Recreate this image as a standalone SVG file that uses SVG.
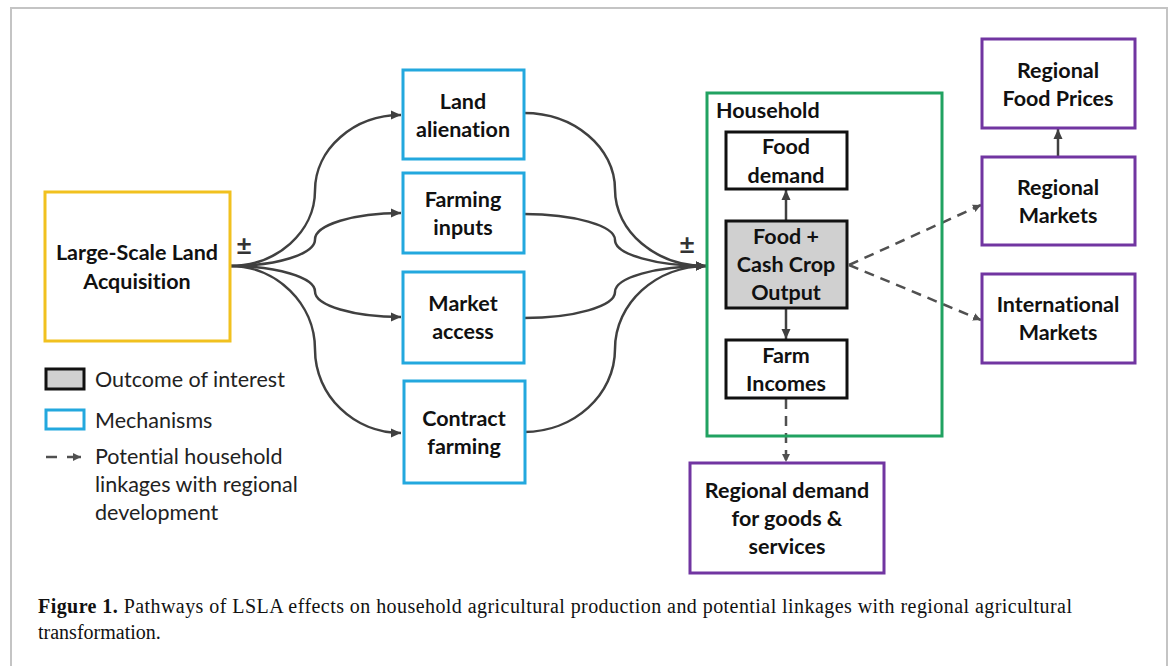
<svg xmlns="http://www.w3.org/2000/svg" width="1173" height="666" viewBox="0 0 1173 666">
<defs>
<marker id="ah" markerUnits="userSpaceOnUse" markerWidth="12" markerHeight="10" refX="10" refY="5" orient="auto">
<path d="M0,0.5 L10,5 L0,9.5 z" fill="#404040"/>
</marker>
<marker id="ahs" markerUnits="userSpaceOnUse" markerWidth="10" markerHeight="10" refX="8" refY="4.5" orient="auto">
<path d="M0,0.5 L8,4.5 L0,8.5 z" fill="#505050"/>
</marker>
</defs>
<style>
.t{font-family:Lato,"Open Sans",sans-serif;font-size:21.5px;font-weight:bold;fill:#111;text-anchor:middle;font-variant-ligatures:none}
.lg{font-family:Lato,"Open Sans",sans-serif;font-size:21.5px;fill:#222;font-variant-ligatures:none}
.cap{font-family:"Liberation Serif",serif;font-size:20px;fill:#111}
.yl{fill:#fff;stroke:#f1c11f;stroke-width:3}
.bl{fill:#fff;stroke:#23a8de;stroke-width:3}
.gr{fill:none;stroke:#21a261;stroke-width:3}
.pu{fill:#fff;stroke:#7135a1;stroke-width:3}
.bk{fill:#fff;stroke:#111;stroke-width:3}
.out{fill:#d0d0d0;stroke:#111;stroke-width:3}
.c{fill:none;stroke:#404040;stroke-width:2.5;marker-end:url(#ah)}
.d{fill:none;stroke:#505050;stroke-width:2.5;stroke-dasharray:10,7;marker-end:url(#ahs)}
.pm{font-family:Lato,"Open Sans",sans-serif;font-size:27px;font-weight:bold;fill:#333;text-anchor:middle}
</style>
<rect x="0" y="0" width="1173" height="666" fill="#fff"/>
<path d="M11,670 V8 H1167 V670" fill="none" stroke="#c4c4c4" stroke-width="2"/>

<g id="connectors">
<path class="c" d="M230,266 C276.75,266 315,232 315,190.5 C315,149 353.7,115 401,115"/>
<path class="c" d="M230,266 C276.75,266 315,254.1 315,239.5 C315,224.9 353.7,213 401,213"/>
<path class="c" d="M230,266 C276.75,266 315,277.5 315,291.5 C315,305.5 353.7,317 401,317"/>
<path class="c" d="M230,266 C276.75,266 315,303.6 315,349.5 C315,395.4 353.7,433 401,433"/>
<path class="c" d="M524,113 C574,113 615,147.4 615,189.5 C615,231.6 656,266 706,266"/>
<path class="c" d="M524,214 C574,214 615,225.7 615,240 C615,254.3 656,266 706,266"/>
<path class="c" d="M524,318 C574,318 615,306.3 615,292 C615,277.7 656,266 706,266"/>
<path class="c" d="M524,432 C574,432 615,394.7 615,349 C615,303.4 656,266 706,266"/>
<path class="c" d="M786,221 V190"/>
<path class="c" d="M786,308 V339"/>
<path class="c" d="M1058,157 V129"/>
<path class="d" d="M849,265 L981,205"/>
<path class="d" d="M849,265 L981,320"/>
<path class="d" d="M786,399 V462"/>
<text class="pm" x="244" y="255">±</text>
<text class="pm" x="687" y="254">±</text>
</g>

<g id="lsla">
<rect class="yl" x="45" y="192" width="185" height="149"/>
<text class="t" x="137" y="259.5">Large-Scale Land</text>
<text class="t" x="137" y="288.5">Acquisition</text>
</g>
<g id="land-alienation">
<rect class="bl" x="403" y="70" width="121" height="89"/>
<text class="t" x="463" y="108.5">Land</text>
<text class="t" x="463" y="136.5">alienation</text>
</g>
<g id="farming-inputs">
<rect class="bl" x="403" y="173" width="121" height="80"/>
<text class="t" x="463" y="206.5">Farming</text>
<text class="t" x="463" y="234.5">inputs</text>
</g>
<g id="market-access">
<rect class="bl" x="403" y="272" width="121" height="91"/>
<text class="t" x="463" y="310.5">Market</text>
<text class="t" x="463" y="338.5">access</text>
</g>
<g id="contract-farming">
<rect class="bl" x="404" y="381" width="121" height="102"/>
<text class="t" x="464" y="425.5">Contract</text>
<text class="t" x="464" y="453.5">farming</text>
</g>

<g id="household">
<rect class="gr" x="707" y="93" width="235" height="343"/>
<text class="t" x="716" y="117.5" style="text-anchor:start">Household</text>
</g>
<g id="food-demand">
<rect class="bk" x="726" y="132" width="121" height="57"/>
<text class="t" x="786" y="153.5">Food</text>
<text class="t" x="786" y="182.5">demand</text>
</g>
<g id="food-cash-crop-output">
<rect class="out" x="726" y="221" width="121" height="87"/>
<text class="t" x="786" y="243.5">Food +</text>
<text class="t" x="786" y="271.5">Cash Crop</text>
<text class="t" x="786" y="299.5">Output</text>
</g>
<g id="farm-incomes">
<rect class="bk" x="726" y="340" width="121" height="58"/>
<text class="t" x="786" y="362.5">Farm</text>
<text class="t" x="786" y="390.5">Incomes</text>
</g>
<g id="regional-food-prices">
<rect class="pu" x="982" y="39" width="153" height="89"/>
<text class="t" x="1058" y="77.5">Regional</text>
<text class="t" x="1058" y="105.5">Food Prices</text>
</g>
<g id="regional-markets">
<rect class="pu" x="982" y="157" width="153" height="88"/>
<text class="t" x="1058" y="194.5">Regional</text>
<text class="t" x="1058" y="222.5">Markets</text>
</g>
<g id="international-markets">
<rect class="pu" x="982" y="274" width="153" height="89"/>
<text class="t" x="1058" y="311.5">International</text>
<text class="t" x="1058" y="339.5">Markets</text>
</g>
<g id="regional-demand">
<rect class="pu" x="690" y="463" width="194" height="110"/>
<text class="t" x="787" y="497.5">Regional demand</text>
<text class="t" x="787" y="525.5">for goods &amp;</text>
<text class="t" x="787" y="553.5">services</text>
</g>

<g id="legend">
<rect class="out" x="46" y="369" width="38" height="20"/>
<text class="lg" x="95" y="386.5">Outcome of interest</text>
<rect class="bl" x="46" y="410" width="38" height="19" stroke-width="2.5"/>
<text class="lg" x="95" y="427.5">Mechanisms</text>
<line x1="46" y1="457" x2="57" y2="457" stroke="#505050" stroke-width="2.5"/>
<line x1="67" y1="457" x2="81" y2="457" stroke="#505050" stroke-width="2.5" marker-end="url(#ahs)"/>
<text class="lg" x="95" y="463.5">Potential household</text>
<text class="lg" x="95" y="491.5">linkages with regional</text>
<text class="lg" x="95" y="519.5">development</text>
</g>

<g id="caption">
<text class="cap" x="38" y="613" textLength="1034" lengthAdjust="spacing"><tspan font-weight="bold">Figure 1.</tspan> Pathways of LSLA effects on household agricultural production and potential linkages with regional agricultural</text>
<text class="cap" x="38" y="639">transformation.</text>
</g>
</svg>
